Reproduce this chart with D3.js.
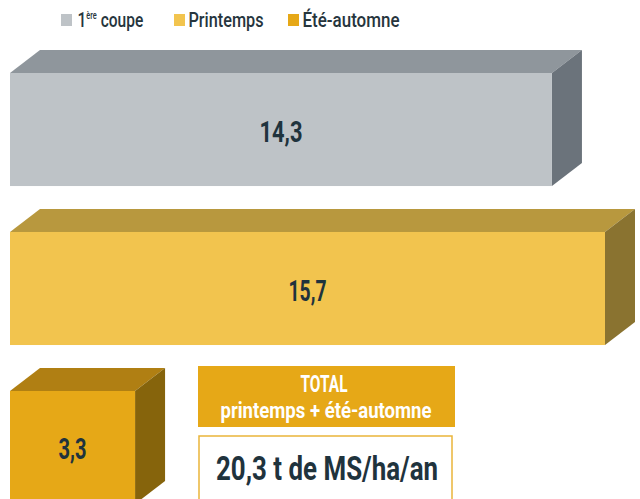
<!DOCTYPE html>
<html><head><meta charset="utf-8">
<script src="https://cdn.jsdelivr.net/npm/d3@7"></script>
<style>body{margin:0;background:#fff}svg{display:block}</style>
</head><body>
<svg id="c" width="640" height="499"></svg>
<script>
const categories = ["1ère coupe", "Printemps", "Été-automne"];
const values = [14.3, 15.7, 3.3];
const valueLabels = ["14,3", "15,7", "3,3"];
const totalLabel = ["TOTAL", "printemps + été-automne"];
const totalValue = "20,3 t de MS/ha/an";

const frontColors = ["#bec3c7", "#f2c44e", "#e6a817"];
const topColors = ["#8f969c", "#b8983e", "#b07f13"];
const sideColors = ["#6b737b", "#8a7330", "#86640c"];

const FONT = "Roboto, 'DejaVu Sans', sans-serif";
const svg = d3.select("#c");

function ctext(sel, opt) {
  const t = sel.append("text")
    .attr("x", opt.x).attr("y", opt.y)
    .attr("font-family", FONT)
    .attr("font-weight", opt.weight || 400)
    .attr("font-size", opt.size)
    .attr("fill", opt.fill)
    .attr("text-anchor", opt.anchor || "start")
    .text(opt.text);
  if (opt.width) t.attr("textLength", opt.width).attr("lengthAdjust", "spacingAndGlyphs");
  return t;
}

const x = d3.scaleLinear().domain([0, 15.7]).range([10, 605]);
const y = d3.scaleBand().domain(categories).range([73, 504]).paddingInner(0.289).paddingOuter(0);
const dx = 30, dy = -23;
const labelWidths = [43, 38, 28];

const g = svg.append("g");
categories.forEach((c, i) => {
  const x0 = x(0), x1 = x(values[i]), y0 = y(c), y1 = y0 + y.bandwidth();
  g.append("path").attr("d", `M${x0},${y0}L${x0+dx},${y0+dy}L${x1+dx},${y0+dy}L${x1},${y0}Z`).attr("fill", topColors[i]);
  g.append("path").attr("d", `M${x1},${y0}L${x1+dx},${y0+dy}L${x1+dx},${y1+dy}L${x1},${y1}Z`).attr("fill", sideColors[i]);
  g.append("rect").attr("x", x0).attr("y", y0).attr("width", x1 - x0).attr("height", y1 - y0).attr("fill", frontColors[i]);
  ctext(g, {x: (x0 + x1) / 2, y: y0 + y.bandwidth() / 2 + 12, anchor: "middle", weight: 700,
    size: 29, fill: "#1f333d", text: valueLabels[i], width: labelWidths[i]});
});

// legend
const legX = [61, 174, 288];
const legW = [null, 75, 97];
const legCol = "#26353d";
categories.forEach((c, i) => {
  const lg = svg.append("g").attr("transform", `translate(${legX[i]},0)`);
  lg.append("rect").attr("x", 0).attr("y", 14).attr("width", 11).attr("height", 12).attr("fill", frontColors[i]);
  if (i === 0) {
    const t = lg.append("text").attr("transform", "translate(16.5,26.7) scale(0.74,1)")
      .attr("font-family", FONT).attr("font-weight", 500).attr("font-size", 21).attr("fill", legCol);
    t.append("tspan").text("1");
    t.append("tspan").attr("font-size", 10).attr("dy", -8).text("ère");
    t.append("tspan").attr("dy", 8).text(" coupe");
  } else {
    ctext(lg, {x: 14.5, y: 26.7, size: 21, weight: 500, fill: legCol, text: c, width: legW[i]});
  }
});

// total box
svg.append("rect").attr("x", 198).attr("y", 366).attr("width", 257).attr("height", 61).attr("fill", "#e6a817");
ctext(svg, {x: 324, y: 391.7, anchor: "middle", weight: 700, size: 23, fill: "#fff", text: totalLabel[0], width: 47});
ctext(svg, {x: 326, y: 417.7, anchor: "middle", weight: 700, size: 22, fill: "#fff", text: totalLabel[1], width: 211});
svg.append("rect").attr("x", 199).attr("y", 436).attr("width", 253).attr("height", 80).attr("fill", "#fff")
  .attr("stroke", "#eab53a").attr("stroke-width", 1.5);
ctext(svg, {x: 327, y: 480, anchor: "middle", weight: 700, size: 33, fill: "#1f333d", text: totalValue, width: 222});
</script>
</body></html>
